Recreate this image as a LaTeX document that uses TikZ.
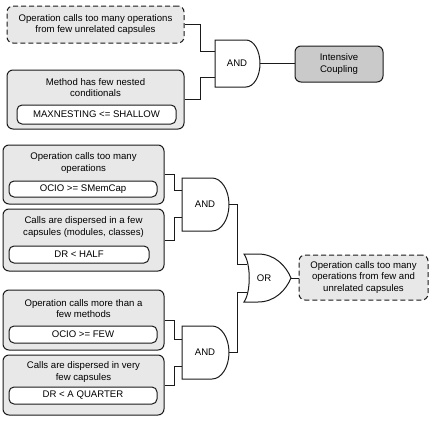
\documentclass[tikz,border=0pt]{standalone}
\usepackage{fontspec}
\setmainfont{Liberation Sans}
\usepackage{tikz}
\usetikzlibrary{positioning, calc}

\definecolor{boxgray}{HTML}{E8E8E8}
\definecolor{goalgray}{HTML}{CACACA}
\definecolor{linegray}{HTML}{1A1A1A}

\begin{document}
\begin{tikzpicture}[x=1pt, y=-1pt,
    every node/.style={font=\fontsize{9.6}{11.6}\selectfont, inner sep=0pt},
    cond/.style={draw=linegray, line width=1pt, rounded corners=6pt, fill=boxgray},
    dashcond/.style={cond, dash pattern=on 5pt off 3pt},
    metric/.style={draw=linegray, line width=1pt, rounded corners=5pt, fill=white},
    goal/.style={draw=linegray, line width=1pt, rounded corners=6pt, fill=goalgray},
    gate/.style={draw=linegray, line width=1pt, fill=white},
    wire/.style={draw=linegray, line width=0.9pt}]

        \useasboundingbox (0,0) rectangle (433,423);

        %\draw[help lines, step=20] (0,0) grid (433,423);

        % intensive coupling branch
        \node[dashcond, minimum width=177, minimum height=37] (few) at (95.5,24.5) {};
        \node[align=center] (fewtxt) at (few.center) {Operation calls too many operations\\from few unrelated capsules};

        \node[cond, minimum width=177, minimum height=59] (nest) at (95.5,99.5) {};
        \node[align=center] (nesttxt) at (95.5,87.5) {Method has few nested\\conditionals};
        \node[metric, minimum width=159, minimum height=19] (nestm) at (96.5,114.5) {MAXNESTING <= SHALLOW};

        \draw[gate] (215,40) -- (246,40) arc[start angle=-90, end angle=90, x radius=14, y radius=23.5] -- (215,87) -- cycle;
        \node (and1) at (237,63.5) {AND};
        \coordinate (and1-a) at (215,51);
        \coordinate (and1-b) at (215,77);
        \coordinate (and1-o) at (260,63.5);

        \node[goal, minimum width=88, minimum height=36] (ic) at (339,64) {};
        \node[align=center] (ictxt) at (ic.center) {Intensive\\Coupling};

        \draw[wire] (few.east) -- ++(16,0) |- (and1-a);
        \draw[wire] (nest.east) -- ++(16,0) |- (and1-b);
        \draw[wire] (and1-o) -- (ic.west |- and1-o);

        % conditions of the first and
        \node[cond, minimum width=161, minimum height=59] (many) at (83.5,174.5) {};
        \node[align=center] (manytxt) at (83.5,163) {Operation calls too many\\operations};
        \node[metric, minimum width=148, minimum height=16] (manym) at (83,189) {OCIO >= SMemCap};

        \node[cond, minimum width=161, minimum height=62] (half) at (83.5,240) {};
        \node[align=center] (halftxt) at (83.5,227) {Calls are dispersed in a few\\capsules (modules, classes)};
        \node[metric, minimum width=140, minimum height=17] (halfm) at (79,254.5) {DR < HALF};

        % conditions of the second and
        \node[cond, minimum width=161, minimum height=60] (more) at (83.5,320) {};
        \node[align=center] (moretxt) at (83.5,308.5) {Operation calls more than a\\few methods};
        \node[metric, minimum width=148, minimum height=17] (morem) at (83,334.5) {OCIO >= FEW};

        \node[cond, minimum width=161, minimum height=60] (quart) at (83.5,385) {};
        \node[align=center] (quarttxt) at (83.5,372) {Calls are dispersed in very\\few capsules};
        \node[metric, minimum width=148, minimum height=17] (quartm) at (83,395.5) {DR < A QUARTER};

        % gates
        \draw[gate] (182,178) -- (212,178) arc[start angle=-90, end angle=90, x radius=17, y radius=26.5] -- (182,231) -- cycle;
        \node (and2) at (205,204.5) {AND};
        \coordinate (and2-a) at (182,190.5);
        \coordinate (and2-b) at (182,217.5);
        \coordinate (and2-o) at (229,204.5);

        \draw[gate] (182,326) -- (212,326) arc[start angle=-90, end angle=90, x radius=17, y radius=26.5] -- (182,379) -- cycle;
        \node (and3) at (205,352.5) {AND};
        \coordinate (and3-a) at (182,339);
        \coordinate (and3-b) at (182,366);
        \coordinate (and3-o) at (229,352.5);

        \draw[gate] (244,254) -- (258,254) .. controls (275,254) and (286,266) .. (291,278)
            .. controls (286,290) and (275,302) .. (258,302) -- (244,302)
            .. controls (251,292) and (251,264) .. (244,254) -- cycle;
        \node (or) at (264,278) {OR};
        \coordinate (or-a) at (247,264);
        \coordinate (or-b) at (247,292);
        \coordinate (or-o) at (291,278);

        \node[dashcond, minimum width=129, minimum height=45] (ocm) at (363.5,277.5) {};
        \node[align=center] (ocmtxt) at (ocm.center) {Operation calls too many\\operations from few and\\unrelated capsules};

        % wires
        \draw[wire] (many.east) -- ++(10,0) |- (and2-a);
        \draw[wire] (half.east) -- ++(10,0) |- (and2-b);
        \draw[wire] (more.east) -- ++(10,0) |- (and3-a);
        \draw[wire] (quart.east) -- ++(10,0) |- (and3-b);
        \draw[wire] (and2-o) -- ++(8,0) |- (or-a);
        \draw[wire] (and3-o) -- ++(8,0) |- (or-b);
        \draw[wire] (or-o) -- (ocm.west |- or-o);
      \end{tikzpicture}
\end{document}
